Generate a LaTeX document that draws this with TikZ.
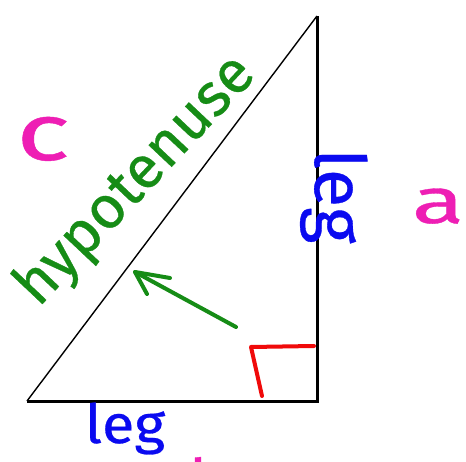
\documentclass[tikz,border=0pt]{standalone}
\usepackage{fontspec}
\setmainfont{Fira Sans}
\newfontfamily\hand{Fira Sans}[FakeBold=0.5]
\definecolor{hgreen}{RGB}{22,140,22}
\definecolor{lblue}{RGB}{10,10,240}
\definecolor{mag}{RGB}{238,30,180}
\definecolor{rred}{RGB}{240,10,10}
\begin{document}
\begin{tikzpicture}[x=1pt,y=-1pt,
  side/.style={line width=3pt, black, line join=miter},
  hypline/.style={line width=1.4pt, black},
  ink/.style={line width=4pt, line cap=round, line join=round},
  lbl/.style={inner sep=0pt, font=\hand\fontsize{#1}{#1}\selectfont}]
\useasboundingbox (0,0) rectangle (466,462);
\clip (0,0) rectangle (466,462);
\fill[white] (0,0) rectangle (466,462);
% triangle
\coordinate (A) at (27,401);
\coordinate (B) at (317,401);
\coordinate (C) at (317,16);
\draw[hypline] (A) -- (C);
\draw[side] (A) -- (B) -- (C);
% right-angle mark
\coordinate (r1) at (262,396);
\coordinate (r2) at (251,347);
\coordinate (r3) at (314,346);
\draw[ink, rred] (r1) -- (r2) -- (r3);
% arrow
\coordinate (tail) at (236,327);
\coordinate (tip) at (135,272);
\coordinate (h1) at (170,278);
\coordinate (h2) at (147,294);
\draw[ink, hgreen] (tail) -- (tip);
\draw[ink, hgreen] (h1) -- (tip) -- (h2);
% labels
\node[lbl=60, text=hgreen, rotate=46.7, anchor=base] (hyp) at (148,192) {hypotenuse};
\node[lbl=70, text=lblue, rotate=-90, anchor=base] (legr) at (315,196) {leg};
\node[lbl=54, text=lblue, anchor=base, xscale=1.1] (legb) at (125,443) {leg};
\node[lbl=80, text=mag, anchor=base, xscale=1.4] (c) at (43,160) {c};
\node[lbl=64, text=mag, anchor=base, xscale=1.5] (a) at (438,223) {a};
\node[lbl=64, text=mag, anchor=base] (b) at (208,505) {b};
\end{tikzpicture}
\end{document}
